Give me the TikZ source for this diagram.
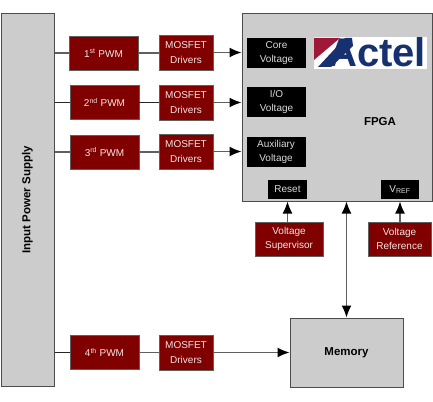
\documentclass[tikz,border=0pt]{standalone}
\usepackage{fontspec}
\setmainfont{Liberation Sans}
\usepackage{tikz}
\usetikzlibrary{arrows.meta}
\definecolor{figred}{RGB}{128,0,0}
\definecolor{figgrey}{RGB}{204,204,204}
\definecolor{figline}{RGB}{95,95,95}
\definecolor{figblue}{RGB}{22,48,112}
\definecolor{figmaroon}{RGB}{160,24,56}
\tikzset{
  pwmbox/.style ={draw=figline, line width=0.8pt, fill=figred, text=white!90!figred, font=\fontsize{10}{14.5}\selectfont, align=center, inner sep=0pt, minimum width=69pt, minimum height=34pt},
  drvbox/.style ={pwmbox, minimum width=54pt, minimum height=35pt},
  supbox/.style ={pwmbox, minimum height=34pt},
  railbox/.style ={draw=black!70, line width=1pt, fill=figgrey, font=\fontsize{11.5}{12}\selectfont\bfseries, align=center, inner sep=0pt},
  pinbox/.style ={fill=black, text=white!85!black, font=\fontsize{10}{14.5}\selectfont, align=center, inner sep=0pt, minimum width=59pt, minimum height=30pt},
  lnk/.style ={draw=figline, line width=1.4pt},
  lnkb/.style ={draw=black!85, line width=0.9pt},
  ptr/.style ={lnk, -{Latex[length=12pt,width=10pt,black]}},
  ptrs/.style ={lnk, {Latex[length=12pt,width=10pt,black]}-{Latex[length=12pt,width=10pt,black]}},
}
\begin{document}
\begin{tikzpicture}[x=1pt,y=-1pt]
  \useasboundingbox (0,0) rectangle (433,401);
  % big blocks
  \node[railbox,minimum width=53pt,minimum height=372pt] (supply) at (27.5,200) {\rotatebox{90}{Input Power Supply}};
  \node[railbox,minimum width=190pt,minimum height=187pt] (fpga) at (337,107.5) {};
  \node[railbox,minimum width=113pt,minimum height=69pt] (memory) at (346.5,352.5) {Memory};
  \node[font=\fontsize{11.5}{12}\selectfont\bfseries] (fpgalab) at (380,122) {FPGA};
  % logo
  \fill[white] (314,37) rectangle (427,69);
  \fill[figmaroon] (314,38) -- (340,38) -- (314,60) -- cycle;
  \fill[figblue] (318,67) -- (331,67) -- (353,46) -- (352,38) -- (345,38) -- cycle;
  \node[text=figblue,font=\fontsize{40}{40}\selectfont\bfseries,inner sep=0pt,anchor=base west] (logo) at (328,67) {Actel};
  % pins inside the fpga
  \node[pinbox] (core) at (276.5,53) {Core\\Voltage};
  \node[pinbox] (io) at (276.5,102) {I/O\\Voltage};
  \node[pinbox] (aux) at (276,152) {Auxiliary\\Voltage};
  \node[pinbox,minimum width=39pt,minimum height=19pt] (reset) at (287.5,189.5) {Reset};
  \node[pinbox,minimum width=38pt,minimum height=19pt] (vref) at (400,189.5) {V\textsubscript{REF}};
  % pwm rows
  \node[pwmbox] (pwma) at (103.5,53) {1\textsuperscript{st} PWM};
  \node[pwmbox] (pwmb) at (104.5,102.5) {2\textsuperscript{nd} PWM};
  \node[pwmbox] (pwmc) at (104.5,152) {3\textsuperscript{rd} PWM};
  \node[pwmbox] (pwmd) at (104.5,352.5) {4\textsuperscript{th} PWM};
  \node[drvbox] (drva) at (186,52.5) {MOSFET\\Drivers};
  \node[drvbox] (drvb) at (186,102.5) {MOSFET\\Drivers};
  \node[drvbox] (drvc) at (186,151.5) {MOSFET\\Drivers};
  \node[drvbox] (drvd) at (186,352.5) {MOSFET\\Drivers};
  % lower blocks
  \node[supbox,minimum width=68pt] (super) at (289,239) {Voltage\\Supervisor};
  \node[supbox,minimum width=63pt] (refer) at (399.5,239) {Voltage\\Reference};
  % links
  \draw[lnk] (supply.east |- pwma) -- (pwma);
  \draw[lnkb] (supply.east |- pwmb) -- (pwmb);
  \draw[lnk] (supply.east |- pwmc) -- (pwmc);
  \draw[lnkb] (supply.east |- pwmd) -- (pwmd);
  \draw[lnk] (pwma) -- (drva.west |- pwma);
  \draw[lnkb] (pwmb) -- (drvb);
  \draw[lnk] (pwmc) -- (drvc.west |- pwmc);
  \draw[lnk] (pwmd) -- (drvd);
  \draw[ptr] (drva) -- (fpga.west |- drva);
  \draw[ptr] (drvb) -- (fpga.west |- drvb);
  \draw[ptr] (drvc) -- (fpga.west |- drvc);
  \draw[ptr] (drvd) -- (memory);
  \draw[ptr] (super.north -| reset) -- (reset |- fpga.south);
  \draw[ptr] (refer.north -| vref) -- (vref |- fpga.south);
  \draw[ptrs] (memory.north) -- (memory.north |- fpga.south);
\end{tikzpicture}
\end{document}
